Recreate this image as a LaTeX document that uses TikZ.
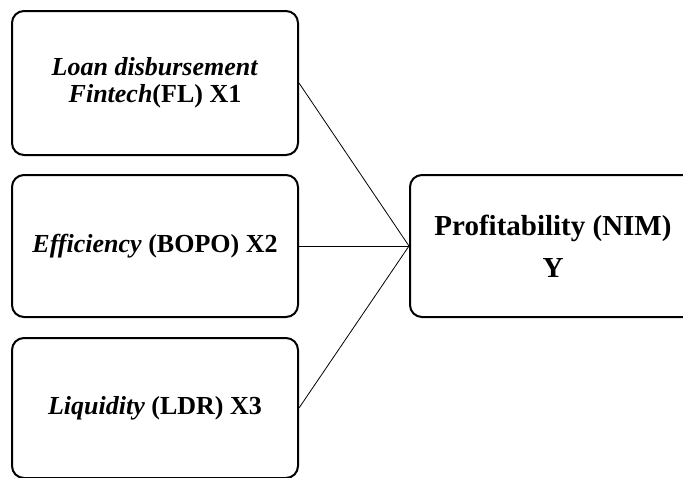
\documentclass[tikz,border=0pt]{standalone}
\usepackage{fontspec}
\setmainfont{Liberation Serif}
\begin{document}
\begin{tikzpicture}[x=1pt,y=-1pt,
  box/.style={draw=black, line width=2pt, rounded corners=12pt, inner sep=0pt, align=center},
  lbox/.style={box, minimum width=286pt, font=\fontsize{26}{27}\selectfont},
  conn/.style={draw=black, line width=0.8pt}]
\useasboundingbox (0,0) rectangle (683,477);
\begin{scope}
\clip (0,0) rectangle (683,477);
\node[lbox, minimum height=144pt] (x1) at (155,83)
  {\textbf{\textit{Loan disbursement}}\\\textbf{\textit{Fintech}(FL) X1}};
\node[lbox, minimum height=142pt] (x2) at (155,246)
  {\textbf{\textit{Efficiency} (BOPO) X2}};
\node[lbox, minimum height=140pt] (x3) at (155,408)
  {\textbf{\textit{Liquidity} (LDR) X3}};
\node[box, minimum width=286pt, minimum height=142pt, font=\fontsize{29}{42}\selectfont] (y) at (553,246)
  {\textbf{Profitability (NIM)}\\\textbf{Y}};
\draw[conn] (x1.east) -- (y.west);
\draw[conn] (x2.east) -- (y.west);
\draw[conn] (x3.east) -- (y.west);
\end{scope}
\end{tikzpicture}
\end{document}
